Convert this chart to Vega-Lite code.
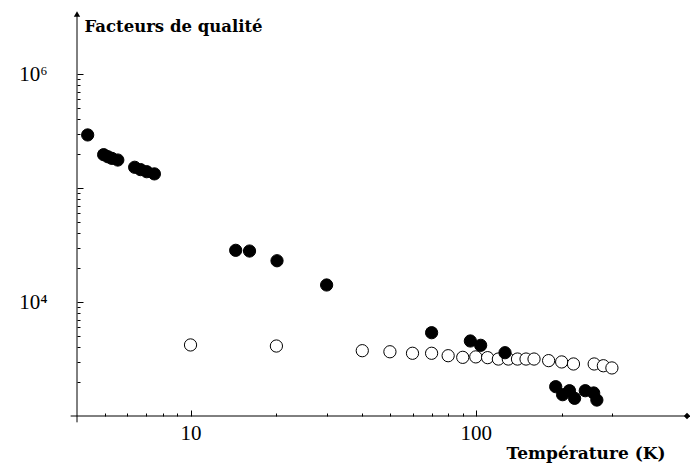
{
  "$schema": "https://vega.github.io/schema/vega-lite/v6.json",
  "width": 610,
  "height": 402,
  "autosize": "none",
  "padding": {"left": 77, "top": 14, "right": 3, "bottom": 50},
  "background": "white",
  "config": {"view": {"stroke": null}},
  "datasets": {
    "points": [
      {"T": 10, "Q": 4200, "serie": "vide"},
      {"T": 20, "Q": 4110, "serie": "vide"},
      {"T": 40, "Q": 3740, "serie": "vide"},
      {"T": 50, "Q": 3660, "serie": "vide"},
      {"T": 60, "Q": 3550, "serie": "vide"},
      {"T": 70, "Q": 3550, "serie": "vide"},
      {"T": 80, "Q": 3380, "serie": "vide"},
      {"T": 90, "Q": 3270, "serie": "vide"},
      {"T": 100, "Q": 3300, "serie": "vide"},
      {"T": 110, "Q": 3250, "serie": "vide"},
      {"T": 120, "Q": 3160, "serie": "vide"},
      {"T": 130, "Q": 3160, "serie": "vide"},
      {"T": 140, "Q": 3160, "serie": "vide"},
      {"T": 150, "Q": 3160, "serie": "vide"},
      {"T": 160, "Q": 3160, "serie": "vide"},
      {"T": 180, "Q": 3060, "serie": "vide"},
      {"T": 200, "Q": 2980, "serie": "vide"},
      {"T": 220, "Q": 2860, "serie": "vide"},
      {"T": 260, "Q": 2860, "serie": "vide"},
      {"T": 280, "Q": 2760, "serie": "vide"},
      {"T": 300, "Q": 2640, "serie": "vide"},
      {"T": 4.36, "Q": 292000, "serie": "plein"},
      {"T": 4.96, "Q": 196000, "serie": "plein"},
      {"T": 5.13, "Q": 188000, "serie": "plein"},
      {"T": 5.3, "Q": 182000, "serie": "plein"},
      {"T": 5.56, "Q": 176000, "serie": "plein"},
      {"T": 6.37, "Q": 152000, "serie": "plein"},
      {"T": 6.68, "Q": 145000, "serie": "plein"},
      {"T": 7.02, "Q": 139000, "serie": "plein"},
      {"T": 7.47, "Q": 133000, "serie": "plein"},
      {"T": 14.4, "Q": 28400, "serie": "plein"},
      {"T": 16.1, "Q": 28000, "serie": "plein"},
      {"T": 20.1, "Q": 23000, "serie": "plein"},
      {"T": 30, "Q": 14100, "serie": "plein"},
      {"T": 70, "Q": 5380, "serie": "plein"},
      {"T": 95.7, "Q": 4550, "serie": "plein"},
      {"T": 104, "Q": 4170, "serie": "plein"},
      {"T": 126.6, "Q": 3590, "serie": "plein"},
      {"T": 190.6, "Q": 1808, "serie": "plein"},
      {"T": 201.5, "Q": 1538, "serie": "plein"},
      {"T": 213, "Q": 1667, "serie": "plein"},
      {"T": 222, "Q": 1429, "serie": "plein"},
      {"T": 242, "Q": 1667, "serie": "plein"},
      {"T": 259, "Q": 1592, "serie": "plein"},
      {"T": 265.7, "Q": 1380, "serie": "plein"}
    ],
    "arrows": [
      {"T": 4, "Q": 3360000, "shape": "triangle-up"},
      {"T": 550, "Q": 1000, "shape": "diamond"}
    ],
    "hrule": [{"T": 3.8, "T2": 550, "Q": 1000}],
    "vrule": [{"T": 4, "Q": 880, "Q2": 3300000}]
  },
  "layer": [
    {
      "data": {"name": "hrule"},
      "mark": {"type": "rule", "color": "black", "strokeWidth": 1, "clip": false},
      "encoding": {
        "x": {"field": "T", "type": "quantitative", "scale": {"type": "log", "domain": [4, 550], "nice": false},
          "axis": {
            "values": [5, 6, 7, 8, 9, 10, 20, 30, 40, 50, 60, 70, 80, 90, 100, 200, 300],
            "labelExpr": "datum.value == 10 ? '10' : (datum.value == 100 ? '100' : '')",
            "labelFont": "Liberation Serif", "labelFontSize": 21, "labelColor": "black",
            "labelPadding": 12, "labelFlush": false, "labelOverlap": false,
            "tickSize": {"condition": {"test": "datum.value == 10 || datum.value == 100", "value": -6}, "value": -3},
            "tickColor": "black", "tickWidth": 1, "domain": false, "grid": false,
            "title": "Température (K)", "titleFont": "DejaVu Serif", "titleFontWeight": "bold",
            "titleFontSize": 17, "titleColor": "black", "titleAnchor": "end",
            "titleAlign": "right", "titleBaseline": "middle", "titleX": 588, "titleY": 37
          }},
        "x2": {"field": "T2"},
        "y": {"field": "Q", "type": "quantitative", "scale": {"type": "log", "domain": [1000, 3360000], "nice": false},
          "axis": {
            "values": [2000, 3000, 4000, 5000, 6000, 7000, 8000, 9000, 10000, 20000, 30000, 40000, 50000, 60000, 70000, 80000, 90000, 100000, 200000, 300000, 400000, 500000, 600000, 700000, 800000, 900000, 1000000],
            "labelExpr": "datum.value == 10000 ? '10⁴' : (datum.value == 1000000 ? '10⁶' : '')",
            "labelFont": "Liberation Serif", "labelFontSize": 21, "labelColor": "black",
            "labelPadding": 36, "labelFlush": false, "labelOverlap": false, "labelBaseline": "middle",
            "tickSize": {"condition": {"test": "datum.value == 10000 || datum.value == 100000 || datum.value == 1000000", "value": -6}, "value": -3},
            "tickColor": "black", "tickWidth": 1, "domain": false, "grid": false,
            "title": "Facteurs de qualité", "titleFont": "DejaVu Serif", "titleFontWeight": "bold",
            "titleFontSize": 16.5, "titleColor": "black", "titleAngle": 0,
            "titleAlign": "left", "titleBaseline": "middle", "titleX": 7, "titleY": 12
          }}
      }
    },
    {
      "data": {"name": "vrule"},
      "mark": {"type": "rule", "color": "black", "strokeWidth": 1, "clip": false},
      "encoding": {
        "x": {"field": "T", "type": "quantitative"},
        "y": {"field": "Q", "type": "quantitative"},
        "y2": {"field": "Q2"}
      }
    },
    {
      "data": {"name": "arrows"},
      "mark": {"type": "point", "filled": true, "color": "black", "size": 40, "opacity": 1, "clip": false},
      "encoding": {
        "x": {"field": "T", "type": "quantitative"},
        "y": {"field": "Q", "type": "quantitative"},
        "shape": {"field": "shape", "type": "nominal", "scale": null}
      }
    },
    {
      "data": {"name": "points"},
      "mark": {"type": "point", "stroke": "black", "strokeWidth": 1, "opacity": 1, "size": 150},
      "encoding": {
        "x": {"field": "T", "type": "quantitative"},
        "y": {"field": "Q", "type": "quantitative"},
        "fill": {"field": "serie", "type": "nominal", "scale": {"domain": ["vide", "plein"], "range": ["white", "black"]}, "legend": null},
        "order": {"field": "serie", "sort": "descending"}
      }
    }
  ]
}
